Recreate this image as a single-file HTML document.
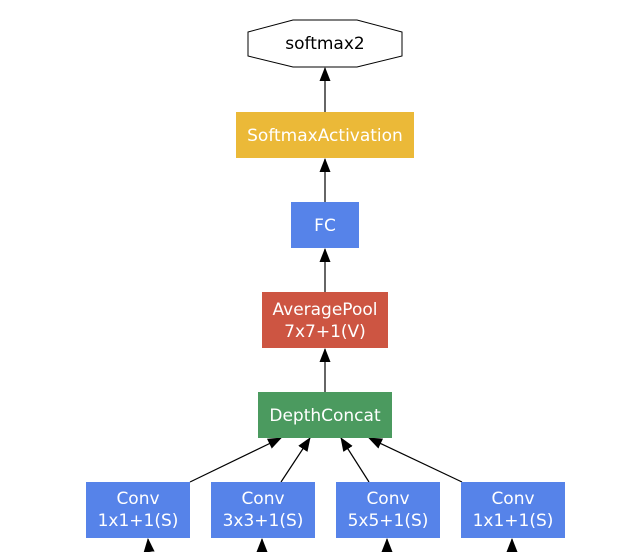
<!DOCTYPE html><html><head><style>body{margin:0;background:#fff}svg text{font-family:"DejaVu Sans",sans-serif;font-size:17px;text-anchor:middle}</style></head><body>
<svg width="638" height="552" xmlns="http://www.w3.org/2000/svg">
<defs><marker id="a" markerWidth="14" markerHeight="11" refX="13" refY="5.5" orient="auto" markerUnits="userSpaceOnUse"><path d="M0,0L14,5.5L0,11z" fill="#000"/></marker></defs>
<polygon points="293,20 357,20 402,32 402,56 357,67 293,67 248,56 248,32" fill="#fff" stroke="#000"/>
<text x="325" y="49" fill="#000">softmax2</text>
<g stroke="#000" stroke-width="1.2" marker-end="url(#a)">
<line x1="325" y1="112" x2="325" y2="68"/>
<line x1="325" y1="202" x2="325" y2="159"/>
<line x1="325" y1="292" x2="325" y2="249"/>
<line x1="325" y1="392" x2="325" y2="349"/>
<line x1="190" y1="482" x2="281" y2="438"/>
<line x1="281" y1="482" x2="310" y2="438"/>
<line x1="369" y1="482" x2="341" y2="438"/>
<line x1="462" y1="482" x2="369" y2="438"/>
<line x1="150" y1="562" x2="148" y2="539"/>
<line x1="262" y1="562" x2="262" y2="539"/>
<line x1="387" y1="562" x2="387" y2="539"/>
<line x1="512" y1="562" x2="512" y2="539"/>
</g>
<rect x="236" y="112" width="178" height="46" fill="#ebb938"/>
<text x="325" y="141" fill="#fff">SoftmaxActivation</text>
<rect x="291" y="202" width="68" height="46" fill="#5683e9"/>
<text x="325" y="231" fill="#fff">FC</text>
<rect x="262" y="292" width="126" height="56" fill="#cd5542"/>
<text x="325" y="315" fill="#fff">AveragePool</text>
<text x="325" y="337" fill="#fff">7x7+1(V)</text>
<rect x="258" y="392" width="134" height="46" fill="#4b9a5f"/>
<text x="325" y="421" fill="#fff">DepthConcat</text>
<g fill="#5683e9"><rect x="86" y="482" width="104" height="56"/><rect x="211" y="482" width="104" height="56"/><rect x="336" y="482" width="104" height="56"/><rect x="461" y="482" width="104" height="56"/></g>
<g fill="#fff">
<text x="138" y="504">Conv</text><text x="138" y="526">1x1+1(S)</text>
<text x="263" y="504">Conv</text><text x="263" y="526">3x3+1(S)</text>
<text x="388" y="504">Conv</text><text x="388" y="526">5x5+1(S)</text>
<text x="513" y="504">Conv</text><text x="513" y="526">1x1+1(S)</text>
</g>
</svg></body></html>
